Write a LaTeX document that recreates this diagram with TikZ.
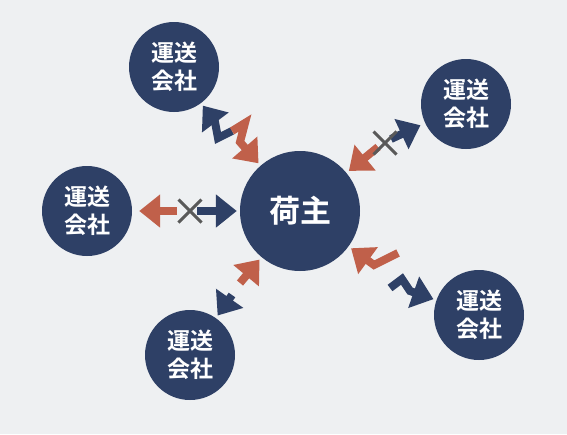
\documentclass[tikz,border=0pt]{standalone}
\usepackage{fontspec}
\newfontfamily\cjk{Noto Sans CJK JP}[BoldFont={Noto Sans CJK JP Bold}]
\usepackage{xcolor}
\usepackage{tikz}
\usetikzlibrary{shapes,arrows.meta}
\definecolor{navy}{HTML}{2E4066}
\definecolor{brick}{HTML}{C0604A}
\definecolor{cutgrey}{HTML}{595959}
\definecolor{paper}{HTML}{EEF0F2}

\begin{document}
\begin{tikzpicture}[x=1pt,y=-1pt]
				\tikzstyle{common} = [circle, fill=navy, text=white, align=center, inner sep=0]
				\tikzstyle{shipper} = [common, minimum size=120pt, font=\cjk\bfseries\fontsize{31}{36}\selectfont]
				\tikzstyle{carrier} = [common, minimum size=90pt, font=\cjk\bfseries\fontsize{23}{28}\selectfont]
				\tikzstyle{toshipper} = [draw=brick, line width=8pt, miter limit=3, -{Triangle[width=32pt,length=21pt]}, shorten >=3pt]
				\tikzstyle{tocarrier} = [toshipper, draw=navy]
				\tikzstyle{cut} = [cross out, draw=cutgrey, line width=3pt, minimum size=20pt, inner sep=0]
				\fill[paper] (0,0) rectangle (567,434);
				\useasboundingbox (0,0) rectangle (567,434);
				\node[shipper] (shipper) at (300,211) {荷主};
				\node[carrier] (c1) at (174,67) {運送\\会社};
				\node[carrier] (c2) at (466,104) {運送\\会社};
				\node[carrier] (c3) at (87,211) {運送\\会社};
				\node[carrier] (c4) at (190,355) {運送\\会社};
				\node[carrier] (c5) at (479,315) {運送\\会社};

				\coordinate (j1) at (232,131);
				\coordinate (r2) at (378,147);
				\coordinate (n2) at (391,139);
				\coordinate (r3) at (177,211);
				\coordinate (n3) at (197,211);
				\coordinate (r4) at (240,283);
				\coordinate (n4) at (232,295);
				\coordinate (r5) at (398,253);
				\coordinate (n5) at (390,288);
				\draw[tocarrier] (j1) -- (218,138) -- (215,122) -- (c1);
				\draw[toshipper] (j1) -- (245,123) -- (240,142) -- (shipper);
				\draw[toshipper] (r2) -- (shipper);
				\draw[tocarrier, shorten >=5pt] (n2) -- (c2);
				\node[cut] (x2) at (385,143) {};
				\draw[toshipper, shorten >=7pt] (r3) -- (c3);
				\draw[tocarrier] (n3) -- (shipper);
				\node[cut] (x3) at (190,211) {};
				\draw[toshipper] (r4) -- (shipper);
				\draw[tocarrier] (n4) -- (c4);
				\draw[toshipper] (r5) -- (374,265) -- (shipper);
				\draw[tocarrier] (n5) -- (402,279) -- (410,291) -- (c5);
\end{tikzpicture}
\end{document}
